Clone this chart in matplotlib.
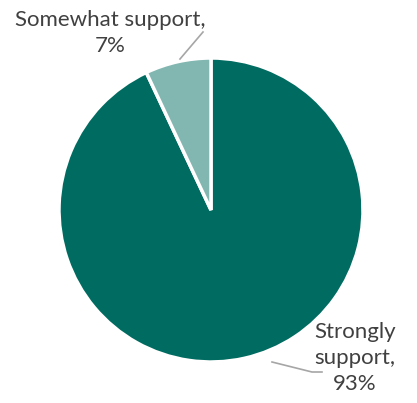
import matplotlib.pyplot as plt

# donnees du graphique
categorias = ['Strongly support', 'Somewhat support']
valores = [93, 7]
rotulos = ['Strongly\nsupport,\n93%', 'Somewhat support,\n7%']
cores = ['#006B60', '#82B7B1']

W, H = 417, 403
fig = plt.figure(figsize=(W / 100, H / 100), dpi=100)
ax = fig.add_axes([0, 0, 1, 1])

cx, cy, r = 211, H - 210, 152
ax.pie(valores, colors=cores, startangle=90, counterclock=False,
       center=(cx, cy), radius=r, frame=True,
       wedgeprops={'edgecolor': 'white', 'linewidth': 2.5})
ax.set_xlim(0, W)
ax.set_ylim(0, H)
ax.set_aspect('equal')
ax.axis('off')

# linhas de chamada
ax.plot([180, 203], [H - 59, H - 32], color='#A6A6A6', lw=1.2)
ax.plot([272, 312, 322], [H - 362, H - 372, H - 372], color='#A6A6A6', lw=1.2)

fonte = dict(family='Lato', fontsize=16, color='#404040',
             ha='center', va='center', linespacing=1.38)
ax.text(110, H - 33, rotulos[1], **fonte)
ax.text(355, H - 358, rotulos[0], **fonte)

fig.savefig('out.png', dpi=100)
